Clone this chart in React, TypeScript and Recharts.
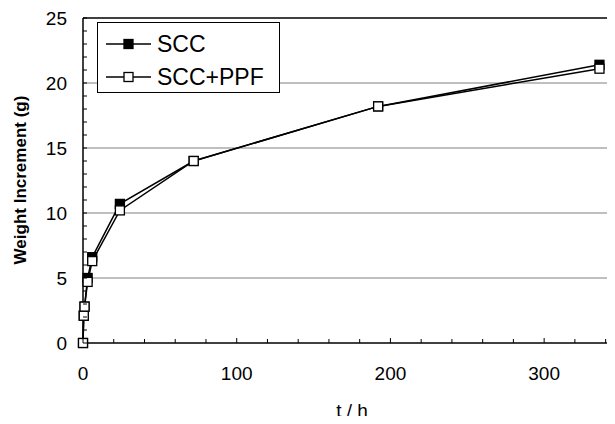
import React from 'react';
import { LineChart, Line, XAxis, YAxis, ReferenceLine, Legend } from 'recharts';

const TIMES = [0, 0.5, 1, 3, 6, 24, 72, 192, 336];
const SCC = [0, 2.1, 2.8, 5.0, 6.6, 10.7, 14.0, 18.2, 21.4];
const SCC_PPF = [0, 2.1, 2.8, 4.7, 6.3, 10.2, 14.0, 18.2, 21.1];
const X_TICKS = [0, 20, 40, 60, 80, 100, 120, 140, 160, 180, 200, 220, 240, 260, 280, 300, 320, 340];
const X_LABELS = [0, 100, 200, 300];
const Y_TICKS = [0, 1, 2, 3, 4, 5, 6, 7, 8, 9, 10, 11, 12, 13, 14, 15, 16, 17, 18, 19, 20, 21, 22, 23, 24, 25];
const Y_LABELS = [0, 5, 10, 15, 20, 25];
const GRID_VALUES = [5, 10, 15, 20];

const FONT = '"Liberation Sans", Arial, sans-serif';

const chartData = TIMES.map((t, i) => ({ t, scc: SCC[i], sccPpf: SCC_PPF[i] }));

const XTick = (props: any) => {
  const { x, y, payload } = props;
  const v = payload.value;
  const major = X_LABELS.includes(v);
  return (
    <g>
      <line x1={x} x2={x} y1={y} y2={y - (major ? 5 : 4)} stroke="#000" strokeWidth={1} />
      {major && (
        <text x={x} y={y + 37} textAnchor="middle" fontSize={19} fontFamily={FONT} fill="#000">
          {v}
        </text>
      )}
    </g>
  );
};

const YTick = (props: any) => {
  const { x, y, payload } = props;
  const v = payload.value;
  const major = Y_LABELS.includes(v);
  return (
    <g>
      <line x1={x} x2={x + 4} y1={y} y2={y} stroke="#000" strokeWidth={1} />
      {major && (
        <text x={x - 16} y={y + 7} textAnchor="end" fontSize={19} fontFamily={FONT} fill="#000">
          {v}
        </text>
      )}
    </g>
  );
};

const squareDot = (fill: string, name: string) => (p: any) => {
  if (p.cx == null || p.cy == null) return <g key={`${name}-${p.index}`} />;
  return (
    <rect
      key={`${name}-${p.index}`}
      x={p.cx - 4.5}
      y={p.cy - 4.5}
      width={9}
      height={9}
      fill={fill}
      stroke="#000"
      strokeWidth={1.3}
    />
  );
};

const LegendBox = () => {
  const rows = [
    { label: 'SCC', fill: '#000', top: 21 },
    { label: 'SCC+PPF', fill: '#fff', top: 54 },
  ];
  return (
    <div
      style={{
        position: 'relative',
        width: 183,
        height: 71,
        boxSizing: 'border-box',
        border: '1px solid #000',
        background: '#fff',
        fontFamily: FONT,
      }}
    >
      {rows.map((r) => (
        <div key={r.label} style={{ position: 'absolute', left: 0, top: r.top - 15, height: 30, width: 181 }}>
          <svg width={56} height={30} style={{ position: 'absolute', left: 7, top: 0 }}>
            <line x1={1} x2={46} y1={15} y2={15} stroke="#000" strokeWidth={1.3} />
            <rect x={19} y={10.5} width={9} height={9} fill={r.fill} stroke="#000" strokeWidth={1.3} />
          </svg>
          <span
            style={{
              position: 'absolute',
              left: 59,
              top: 0,
              lineHeight: '30px',
              fontSize: 23,
              color: '#000',
              whiteSpace: 'nowrap',
            }}
          >
            {r.label}
          </span>
        </div>
      ))}
    </div>
  );
};

export default function App() {
  return (
    <div style={{ width: 615, height: 424, overflow: 'hidden', margin: '-8px', background: '#fff', position: 'relative' }}>
      <LineChart
        width={640}
        height={424}
        data={chartData}
        margin={{ top: 18, right: 19, bottom: 21, left: 23 }}
      >
        <XAxis
          type="number"
          dataKey="t"
          domain={[0, 350]}
          ticks={X_TICKS}
          interval={0}
          tick={<XTick />}
          tickLine={false}
          tickSize={0}
          tickMargin={0}
          axisLine={{ stroke: '#000', strokeWidth: 1.5 }}
          height={60}
        />
        <YAxis
          type="number"
          domain={[0, 25]}
          ticks={Y_TICKS}
          interval={0}
          tick={<YTick />}
          tickLine={false}
          tickSize={0}
          tickMargin={0}
          axisLine={{ stroke: '#000', strokeWidth: 1.5 }}
          width={60}
        />
        {GRID_VALUES.map((v) => (
          <ReferenceLine key={v} y={v} stroke="#808080" strokeWidth={1.2} />
        ))}
        <ReferenceLine y={25} stroke="#000" strokeWidth={1.5} />
        <Line
          type="linear"
          dataKey="scc"
          name="SCC"
          stroke="#000"
          strokeWidth={1.5}
          dot={squareDot('#000', 'scc')}
          isAnimationActive={false}
        />
        <Line
          type="linear"
          dataKey="sccPpf"
          name="SCC+PPF"
          stroke="#000"
          strokeWidth={1.5}
          dot={squareDot('#fff', 'ppf')}
          isAnimationActive={false}
        />
        <Legend
          layout="vertical"
          align="center"
          verticalAlign="middle"
          content={<LegendBox />}
          wrapperStyle={{ left: 97, top: 22, width: 183, height: 71 }}
        />
        <text
          x={20}
          y={180}
          transform="rotate(-90 20 180)"
          textAnchor="middle"
          dominantBaseline="central"
          fontSize={17}
          fontWeight="bold"
          fontFamily={FONT}
          fill="#000"
        >
          Weight Increment (g)
        </text>
        <text x={352} y={417} textAnchor="middle" fontSize={19} fontFamily={FONT} fill="#000">
          t / h
        </text>
      </LineChart>
    </div>
  );
}
